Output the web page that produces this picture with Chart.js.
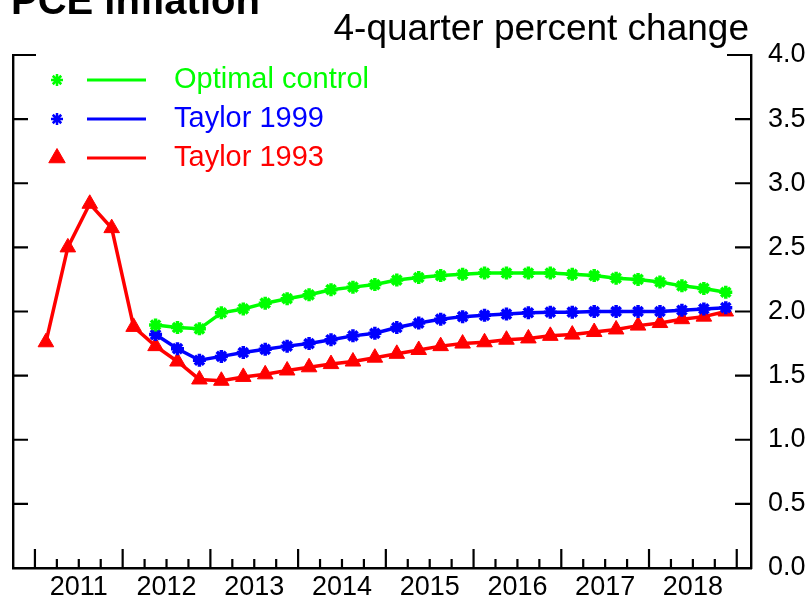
<!DOCTYPE html>
<html>
<head>
<meta charset="utf-8">
<script src="https://cdn.jsdelivr.net/npm/chart.js@4.4.1/dist/chart.umd.min.js"></script>
<style>
  body { margin: 0; background: #fff; }
  #wrap { position: relative; width: 812px; height: 602px; overflow: hidden; }
  .lbl { position: absolute; font-family: "Liberation Sans", Arial, sans-serif; white-space: nowrap; color: #000; }
  #title { left: 11px; top: -20px; font-size: 40px; line-height: 40px; font-weight: bold; }
  #sub { right: 63px; top: 9px; font-size: 37px; line-height: 37px; }
</style>
</head>
<body>
<div id="wrap">
  <canvas id="myChart" width="812" height="602"></canvas>
  <div class="lbl" id="title">PCE inflation</div>
  <div class="lbl" id="sub">4-quarter percent change</div>
</div>
<script>
// quarters 2011Q1 .. 2018Q4, x = quarter index
const years = ['2011', '2012', '2013', '2014', '2015', '2016', '2017', '2018'];
const yTicks = [0, 0.5, 1, 1.5, 2, 2.5, 3, 3.5, 4];

const optimalControl = [null, null, null, null, null,
  1.895, 1.875, 1.865, 1.99, 2.02, 2.065, 2.10, 2.13, 2.17, 2.19, 2.21,
  2.245, 2.265, 2.28, 2.29, 2.30, 2.30, 2.30, 2.30, 2.29, 2.28, 2.26,
  2.25, 2.23, 2.20, 2.18, 2.15];
const taylor1999 = [null, null, null, null, null,
  1.82, 1.71, 1.62, 1.65, 1.68, 1.705, 1.73, 1.75, 1.78, 1.81, 1.83,
  1.875, 1.91, 1.94, 1.96, 1.97, 1.98, 1.99, 1.995, 1.995, 2.0, 2.0,
  2.0, 2.0, 2.01, 2.02, 2.03];
const taylor1993 = [1.76, 2.50, 2.84, 2.65, 1.88,
  1.73, 1.61, 1.47, 1.46, 1.49, 1.51, 1.54, 1.565, 1.59, 1.61, 1.64,
  1.67, 1.70, 1.73, 1.75, 1.76, 1.78, 1.79, 1.81, 1.82, 1.84, 1.86,
  1.89, 1.91, 1.94, 1.96, 2.00];

const toXY = arr => arr.map((v, i) => ({x: i, y: v}));

Chart.defaults.font.family = '"Liberation Sans", Arial, sans-serif';
Chart.defaults.color = '#000';

// inward tick marks on the frame
const frameTicks = {
  id: 'frameTicks',
  afterDraw(chart) {
    const {ctx, chartArea: a} = chart;
    const x = chart.scales.x, y = chart.scales.y;
    ctx.save();
    ctx.strokeStyle = '#000';
    ctx.lineWidth = 2.2;
    ctx.beginPath();
    for (let q = 0; q <= 32; q++) {
      const px = x.getPixelForValue(q - 0.5);
      const len = q % 4 === 0 ? 19 : 9;
      ctx.moveTo(px, a.bottom);
      ctx.lineTo(px, a.bottom - len);
    }
    yTicks.forEach(v => {
      if (v === 0) return;
      const py = y.getPixelForValue(v);
      const top = v === 4;
      ctx.moveTo(a.left, py);
      ctx.lineTo(a.left + (top ? 23 : 15), py);
      ctx.moveTo(a.right, py);
      ctx.lineTo(a.right - (top ? 24 : 16), py);
    });
    ctx.stroke();
    ctx.restore();
  }
};

// legend: marker, line, label
const legendRows = {
  id: 'legendRows',
  afterDraw(chart) {
    const {ctx, chartArea: a} = chart;
    ctx.save();
    chart.data.datasets.forEach((ds, k) => {
      const yy = a.top + 25 + k * 39;
      const mx = a.left + 44;
      const tri = ds.pointStyle === 'triangle';
      ctx.fillStyle = ds.borderColor;
      ctx.strokeStyle = ds.borderColor;
      ctx.lineWidth = tri ? 1 : 2.5;
      Chart.helpers.drawPoint(ctx, {
        pointStyle: ds.pointStyle,
        radius: tri ? 9.5 : 6,
        borderWidth: tri ? 1 : 2.5,
        rotation: 0
      }, mx, yy);
      ctx.lineWidth = 3;
      ctx.beginPath();
      ctx.moveTo(a.left + 74, yy);
      ctx.lineTo(a.left + 133, yy);
      ctx.stroke();
      ctx.font = '29px "Liberation Sans", Arial, sans-serif';
      ctx.textBaseline = 'middle';
      ctx.textAlign = 'left';
      ctx.fillText(ds.label, a.left + 161, yy);
    });
    ctx.restore();
  }
};

const mk = (label, arr, color, style, r, bw) => ({
  label: label,
  data: toXY(arr),
  borderColor: color,
  backgroundColor: color,
  pointBackgroundColor: color,
  pointBorderColor: color,
  borderWidth: 3.5,
  pointStyle: style,
  pointRadius: r,
  pointBorderWidth: bw,
  tension: 0
});

const ctx = document.getElementById('myChart').getContext('2d');
const myChart = new Chart(ctx, {
  type: 'line',
  data: {
    datasets: [
      mk('Optimal control', optimalControl, '#00ff00', 'star', 6.5, 3.5),
      mk('Taylor 1999', taylor1999, '#0000ff', 'star', 6.5, 3.5),
      mk('Taylor 1993', taylor1993, '#ff0000', 'triangle', 9, 1)
    ]
  },
  options: {
    responsive: false,
    animation: false,
    layout: { padding: { top: 55, left: 13, right: 0, bottom: 0 } },
    plugins: { legend: { display: false }, tooltip: { enabled: false } },
    scales: {
      x: {
        type: 'linear',
        min: -1.5,
        max: 32.15,
        afterBuildTicks: s => { s.ticks = years.map((t, i) => ({value: 1.5 + i * 4})); },
        afterFit: s => { s.height = 34; },
        ticks: {
          autoSkip: false,
          maxRotation: 0,
          padding: 3,
          font: { size: 27 },
          callback: v => years[Math.round((v - 1.5) / 4)]
        },
        grid: { display: false, drawTicks: false },
        border: { display: true, color: '#000', width: 2.4 }
      },
      y: {
        position: 'right',
        min: 0,
        max: 4,
        afterBuildTicks: s => { s.ticks = yTicks.map(v => ({value: v})); },
        afterFit: s => { s.width = 61; },
        ticks: {
          padding: 17,
          font: { size: 27 },
          callback: v => v.toFixed(1)
        },
        grid: { display: false, drawTicks: false },
        border: { display: true, color: '#000', width: 2.4 }
      },
      yl: {
        position: 'left',
        min: 0,
        max: 4,
        afterFit: s => { s.width = 0; },
        ticks: { display: false },
        grid: { display: false, drawTicks: false },
        border: { display: true, color: '#000', width: 2.4 }
      }
    }
  },
  plugins: [frameTicks, legendRows]
});
</script>
</body>
</html>
